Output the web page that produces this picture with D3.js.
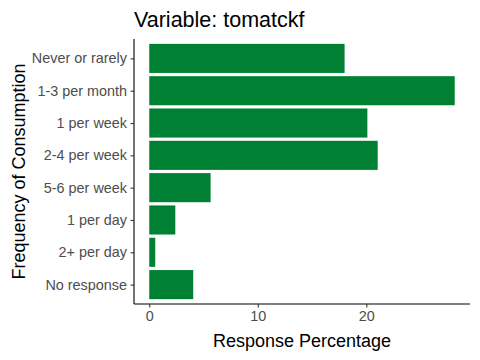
<!DOCTYPE html>
<html><head><meta charset="utf-8">
<script src="https://cdn.jsdelivr.net/npm/d3@7"></script>
<style>body{margin:0;background:#fff}</style>
</head><body>
<svg id="c" width="480" height="360"></svg>
<script>
const categories = ["Never or rarely","1-3 per month","1 per week","2-4 per week","5-6 per week","1 per day","2+ per day","No response"];
const values = [18.0, 28.15, 20.1, 21.05, 5.65, 2.4, 0.55, 4.05];
const xTicks = [0, 10, 20];
const title = "Variable: tomatckf";
const xTitle = "Response Percentage";
const yTitle = "Frequency of Consumption";

const svg = d3.select("#c");
const font = "'Liberation Sans', Arial, sans-serif";
const L = 134, R = 470, T = 39, B = 304;
const maxV = d3.max(values);
const pad = maxV * 0.05;
const x = d3.scaleLinear().domain([-pad, maxV + pad]).range([L, R]);
const n = categories.length;
const step = (B - T) / (n - 1 + 1.2);
const y = d3.scalePoint().domain(categories).range([T + 0.6 * step, B - 0.6 * step]);
const bw = step * 0.9;

svg.append("g").selectAll("rect").data(values).join("rect")
  .attr("x", x(0))
  .attr("y", (d, i) => y(categories[i]) - bw / 2)
  .attr("width", d => x(d) - x(0))
  .attr("height", bw)
  .attr("fill", "#008033");

const xa = svg.append("g").attr("transform", `translate(0,${B})`)
  .call(d3.axisBottom(x).tickValues(xTicks).tickSize(3.5).tickPadding(3));
const ya = svg.append("g").attr("transform", `translate(${L},0)`)
  .call(d3.axisLeft(y).tickSize(3.5).tickPadding(3.5));
[xa, ya].forEach(a => {
  a.select(".domain").attr("stroke", "#000").attr("stroke-width", 1.1)
   .attr("d", a === xa ? `M${L},0H${R}` : `M0,${T}V${B}`);
  a.selectAll(".tick line").attr("stroke", "#333").attr("stroke-width", 1.1);
  a.selectAll(".tick text").attr("fill", "#4D4D4D").style("font-family", font).style("font-size", "14.4px");
});

svg.append("text").attr("x", 134).attr("y", 27).text(title)
  .style("font-family", font).style("font-size", "21.5px").attr("fill", "#000");
svg.append("text").attr("x", (L + R) / 2).attr("y", 347).attr("text-anchor", "middle").text(xTitle)
  .style("font-family", font).style("font-size", "18px").attr("fill", "#000");
svg.append("text").attr("transform", `translate(24.5,${(T + B) / 2}) rotate(-90)`).attr("text-anchor", "middle").text(yTitle)
  .style("font-family", font).style("font-size", "18px").attr("fill", "#000");
</script>
</body></html>
